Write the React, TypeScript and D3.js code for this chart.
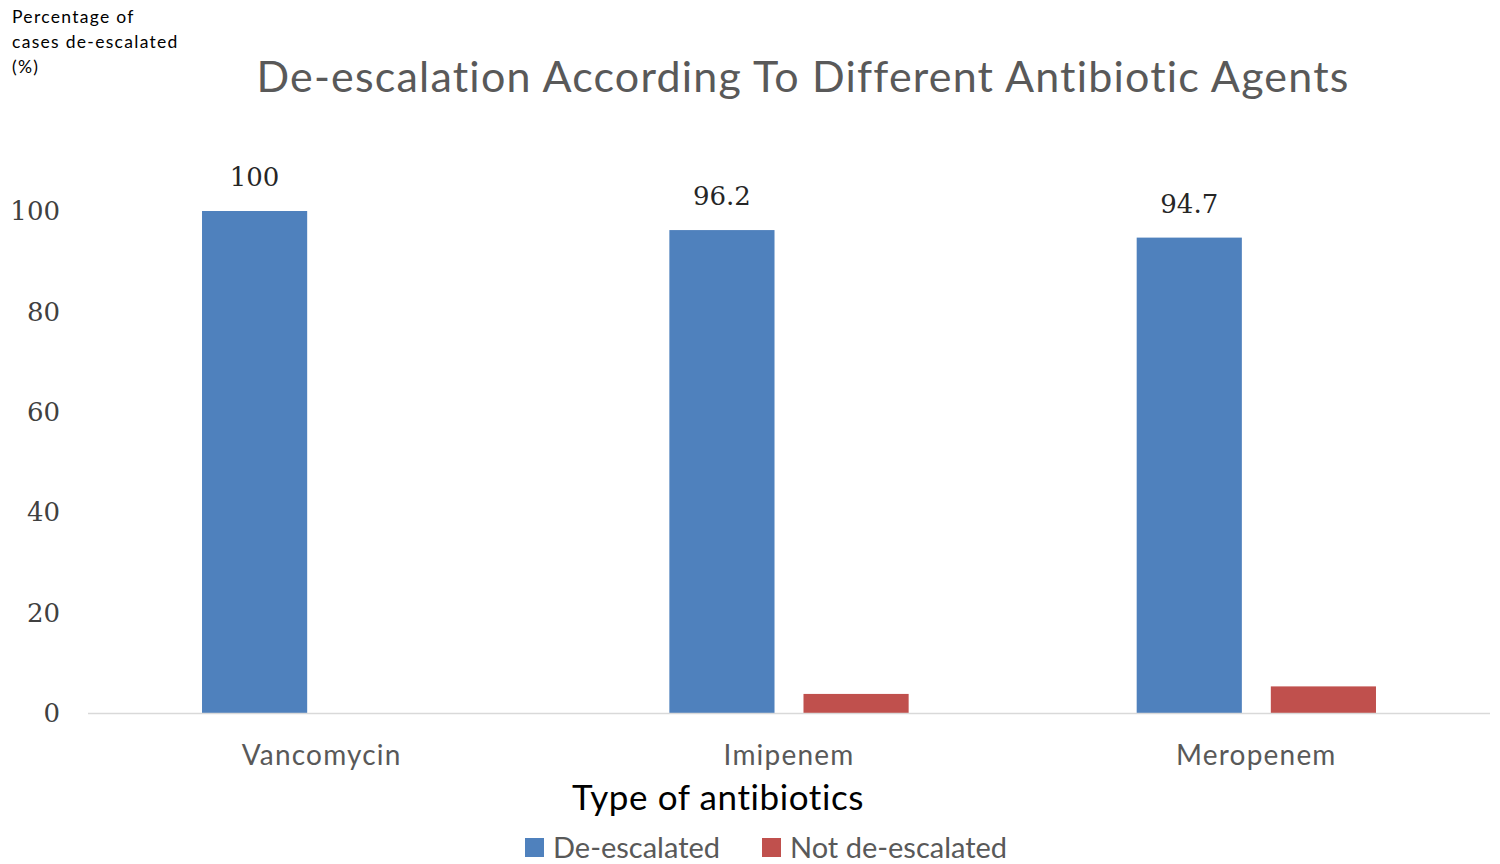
import { useEffect } from 'react';
import * as d3 from 'd3';

const categories = ['Vancomycin', 'Imipenem', 'Meropenem'];
const seriesNames = ['De-escalated', 'Not de-escalated'];
const deEscalated = [100, 96.2, 94.7];
const notDeEscalated = [0, 3.8, 5.3];
const yTicks = [0, 20, 40, 60, 80, 100];

const WIDTH = 1500;
const HEIGHT = 864;
const COLORS = ['#4F81BD', '#C0504D'];
const SANS = 'Lato, "Open Sans", sans-serif';
const SERIF = '"DejaVu Serif", "Liberation Serif", serif';

export default function App() {
  useEffect(() => {
    document.body.style.margin = '0';
  }, []);

  const x = d3.scaleBand<string>().domain(categories).range([88, 1490]).padding(0);
  const xInner = d3.scaleBand<string>().domain(seriesNames).range([0, x.bandwidth()])
    .paddingInner(0.216).paddingOuter(0.85);
  const y = d3.scaleLinear().domain([0, 100]).range([713, 211]);

  const values = [deEscalated, notDeEscalated];

  return (
    <svg width={WIDTH} height={HEIGHT} style={{ display: 'block', background: '#fff' }}>
      {/* y axis title */}
      <g fontFamily={SANS} fontSize={17.5} fill="#000" letterSpacing={1.3}>
        <text x={12} y={23}>Percentage of</text>
        <text x={12} y={48}>cases de-escalated</text>
        <text x={12} y={73}>(%)</text>
      </g>

      <text x={803} y={92} textAnchor="middle" fontFamily={SANS} fontSize={43} letterSpacing={1.2} fill="#595959">
        De-escalation According To Different Antibiotic Agents
      </text>

      {/* y ticks */}
      {yTicks.map(t => (
        <text key={t} x={60} y={y(t)} dy="0.35em" textAnchor="end" fontFamily={SERIF} fontSize={26} fill="#404040">
          {t}
        </text>
      ))}

      {/* bars */}
      {values.map((vals, si) => (
        <g key={seriesNames[si]} fill={COLORS[si]}>
          {categories.map((c, ci) => (
            <rect key={c}
              x={x(c)! + xInner(seriesNames[si])!}
              y={y(vals[ci])}
              width={xInner.bandwidth()}
              height={y(0) - y(vals[ci])} />
          ))}
        </g>
      ))}

      {/* data labels for de-escalated */}
      {categories.map((c, ci) => (
        <text key={c} x={x(c)! + xInner(seriesNames[0])! + xInner.bandwidth() / 2} y={y(deEscalated[ci]) - 34}
          dy="0.35em" textAnchor="middle" fontFamily={SERIF} fontSize={26} fill="#262626">
          {deEscalated[ci]}
        </text>
      ))}

      <line x1={88} x2={1490} y1={y(0) + 0.5} y2={y(0) + 0.5} stroke="#d9d9d9" strokeWidth={1.5} />

      {/* category labels */}
      {categories.map(c => (
        <text key={c} x={x(c)! + x.bandwidth() / 2} y={755} dy="0.35em" textAnchor="middle"
          fontFamily={SANS} fontSize={28} letterSpacing={1.2} fill="#595959">
          {c}
        </text>
      ))}

      <text x={718} y={798} dy="0.35em" textAnchor="middle" fontFamily={SANS} fontSize={35} letterSpacing={0.6} fill="#000">
        Type of antibiotics
      </text>

      {/* legend */}
      {seriesNames.map((s, i) => {
        const lx = i === 0 ? 525 : 762;
        return (
          <g key={s}>
            <rect x={lx} y={838} width={19} height={19} fill={COLORS[i]} />
            <text x={lx + 28} y={848} dy="0.35em" fontFamily={SANS} fontSize={29} fill="#595959">{s}</text>
          </g>
        );
      })}
    </svg>
  );
}
